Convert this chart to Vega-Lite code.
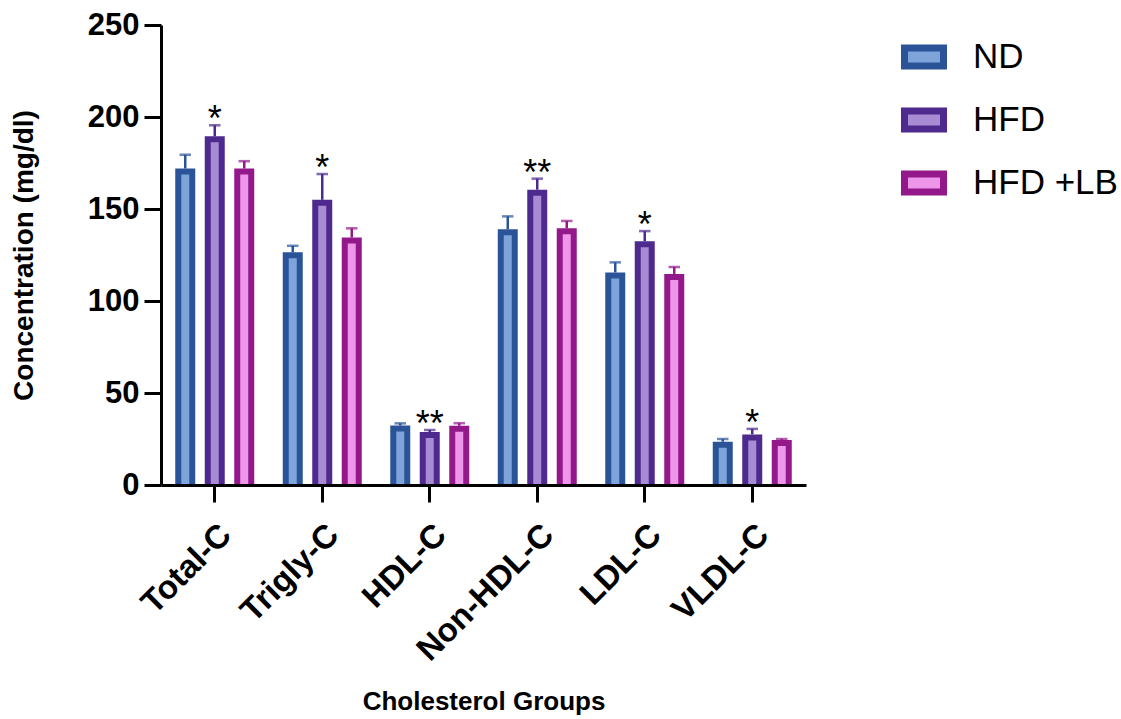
{
  "$schema": "https://vega.github.io/schema/vega-lite/v6.json",
  "width": 645,
  "height": 460,
  "autosize": {"type": "none"},
  "padding": {"left": 161, "top": 25, "right": 315, "bottom": 234},
  "background": "white",
  "config": {"view": {"stroke": null}, "font": "Liberation Sans"},
  "data": {
    "values": [
      {"category": "Total-C", "group": "ND", "mean": 172, "hi": 179.5, "sig": ""},
      {"category": "Total-C", "group": "HFD", "mean": 189.5, "hi": 195.5, "sig": "*"},
      {"category": "Total-C", "group": "HFD +LB", "mean": 172, "hi": 176, "sig": ""},
      {"category": "Trigly-C", "group": "ND", "mean": 126.5, "hi": 130, "sig": ""},
      {"category": "Trigly-C", "group": "HFD", "mean": 155, "hi": 169, "sig": "*"},
      {"category": "Trigly-C", "group": "HFD +LB", "mean": 134.5, "hi": 139.5, "sig": ""},
      {"category": "HDL-C", "group": "ND", "mean": 32.3, "hi": 33.5, "sig": ""},
      {"category": "HDL-C", "group": "HFD", "mean": 28.8, "hi": 29.9, "sig": "**"},
      {"category": "HDL-C", "group": "HFD +LB", "mean": 32.2, "hi": 33.6, "sig": ""},
      {"category": "Non-HDL-C", "group": "ND", "mean": 139, "hi": 146, "sig": ""},
      {"category": "Non-HDL-C", "group": "HFD", "mean": 160.5, "hi": 166.5, "sig": "**"},
      {"category": "Non-HDL-C", "group": "HFD +LB", "mean": 139.5, "hi": 143.5, "sig": ""},
      {"category": "LDL-C", "group": "ND", "mean": 115.5, "hi": 121, "sig": ""},
      {"category": "LDL-C", "group": "HFD", "mean": 132.5, "hi": 138, "sig": "*"},
      {"category": "LDL-C", "group": "HFD +LB", "mean": 114.7, "hi": 118.5, "sig": ""},
      {"category": "VLDL-C", "group": "ND", "mean": 23.5, "hi": 25, "sig": ""},
      {"category": "VLDL-C", "group": "HFD", "mean": 27.5, "hi": 30.5, "sig": "*"},
      {"category": "VLDL-C", "group": "HFD +LB", "mean": 24.5, "hi": 25, "sig": ""}
    ]
  },
  "encoding": {
    "x": {
      "field": "category",
      "type": "nominal",
      "sort": ["Total-C", "Trigly-C", "HDL-C", "Non-HDL-C", "LDL-C", "VLDL-C"],
      "scale": {"paddingInner": 0.321, "paddingOuter": 0.1605},
      "axis": {
        "title": "Cholesterol Groups",
        "labelAngle": -45,
        "labelAlign": "right",
        "labelBaseline": "top",
        "labelFontSize": 33,
        "labelFontWeight": "bold",
        "labelColor": "black",
        "labelPadding": 16,
        "domainWidth": 3,
        "domainColor": "black",
        "tickWidth": 3,
        "tickColor": "black",
        "tickSize": 17,
        "titleFontSize": 26,
        "titleFontWeight": "bold",
        "titleColor": "black",
        "titlePadding": 21,
        "zindex": 1
      }
    },
    "xOffset": {
      "field": "group",
      "type": "nominal",
      "sort": ["ND", "HFD", "HFD +LB"],
      "scale": {"domain": ["ND", "HFD", "HFD +LB"], "paddingInner": 0.5254, "paddingOuter": 0}
    }
  },
  "layer": [
    {
      "mark": {"type": "bar", "strokeWidth": 6, "yOffset": 3, "clip": true},
      "encoding": {
        "y": {
          "field": "mean",
          "type": "quantitative",
          "scale": {"domain": [0, 250], "nice": false},
          "axis": {
            "title": "Concentration (mg/dl)",
            "values": [0, 50, 100, 150, 200, 250],
            "grid": false,
            "domainWidth": 3,
            "domainColor": "black",
            "tickColor": "black",
            "tickWidth": 3,
            "tickSize": 17,
            "labelFontSize": 31,
            "labelFontWeight": "bold",
            "labelColor": "black",
            "labelPadding": 5,
            "titleFontSize": 28,
            "titleFontWeight": "bold",
            "titleColor": "black",
            "titlePadding": 49,
            "zindex": 1
          }
        },
        "fill": {
          "field": "group",
          "type": "nominal",
          "scale": {"domain": ["ND", "HFD", "HFD +LB"], "range": ["#7EA4D9", "#A78BD3", "#EE97EA"]},
          "legend": {
            "title": null,
            "orient": "none",
            "legendX": 740,
            "legendY": 9,
            "symbolType": "M-1,-0.4615H1V0.4615H-1Z",
            "symbolSize": 1521,
            "symbolStrokeWidth": 7,
            "labelFontSize": 35,
            "labelFont": "Liberation Sans",
            "labelFontWeight": "normal",
            "labelColor": "black",
            "labelOffset": 26,
            "rowPadding": 17,
            "padding": 0
          }
        },
        "stroke": {
          "field": "group",
          "type": "nominal",
          "scale": {"domain": ["ND", "HFD", "HFD +LB"], "range": ["#2A5497", "#4E2A8E", "#93198B"]},
          "legend": {
            "title": null,
            "orient": "none",
            "legendX": 740,
            "legendY": 9,
            "symbolType": "M-1,-0.4615H1V0.4615H-1Z",
            "symbolSize": 1521,
            "symbolStrokeWidth": 7,
            "labelFontSize": 35,
            "labelFont": "Liberation Sans",
            "labelFontWeight": "normal",
            "labelColor": "black",
            "labelOffset": 26,
            "rowPadding": 17,
            "padding": 0
          }
        }
      }
    },
    {
      "mark": {"type": "rule", "strokeWidth": 2.5},
      "encoding": {
        "y": {"field": "mean", "type": "quantitative"},
        "y2": {"field": "hi"},
        "stroke": {"field": "group", "type": "nominal"}
      }
    },
    {
      "mark": {"type": "tick", "size": 9, "thickness": 0.01, "filled": false, "strokeWidth": 2.5},
      "encoding": {
        "y": {"field": "hi", "type": "quantitative"},
        "stroke": {"field": "group", "type": "nominal"}
      }
    },
    {
      "transform": [{"filter": "datum.sig != ''"}],
      "mark": {"type": "text", "baseline": "alphabetic", "dy": 6, "fontSize": 36, "font": "Liberation Sans", "color": "black"},
      "encoding": {
        "y": {"field": "hi", "type": "quantitative"},
        "text": {"field": "sig"}
      }
    }
  ]
}
